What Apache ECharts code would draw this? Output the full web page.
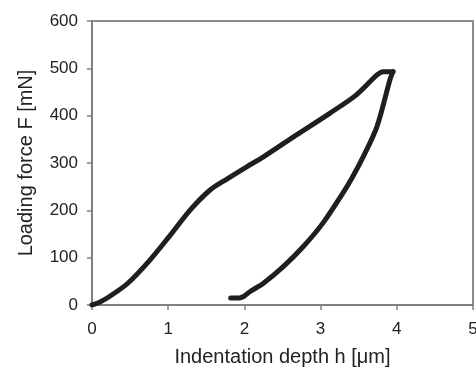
<!DOCTYPE html>
<html>
<head>
<meta charset="utf-8">
<script src="https://cdn.jsdelivr.net/npm/echarts@6/dist/echarts.min.js"></script>
<style>
html,body{margin:0;padding:0;background:#fff;}
#chart{width:476px;height:371px;}
</style>
</head>
<body>
<div id="chart"></div>
<script>
var loadH = [0, 0.1, 0.24, 0.47, 0.76, 1.02, 1.29, 1.55, 1.77, 2.03, 2.25, 2.69, 3.12, 3.47, 3.74, 3.82, 3.95];
var loadF = [0, 6, 19, 46, 95, 146, 201, 243, 266, 292, 313, 360, 405, 444, 486, 493, 493];
var unloadH = [3.95, 3.91, 3.74, 3.54, 3.41, 3.29, 3.03, 2.77, 2.51, 2.25, 2.07, 1.99, 1.93, 1.82];
var unloadF = [493, 476, 377, 307, 268, 236, 173, 123, 81, 46, 28, 18, 15, 15];
var xTicks = [0, 1, 2, 3, 4, 5];
var yTicks = [0, 100, 200, 300, 400, 500, 600];

function pairs(a, b) { return a.map(function (v, i) { return [v, b[i]]; }); }

var chart = echarts.init(document.getElementById('chart'));
var lineStyle = { width: 5, color: '#1f1f1f', cap: 'round', join: 'round' };
chart.setOption({
  animation: false,
  grid: { left: 92, top: 21, right: 3, bottom: 66, containLabel: false, outerBoundsMode: 'none', show: true, borderColor: '#8c8c8c', borderWidth: 2, backgroundColor: 'transparent' },
  xAxis: {
    type: 'value', min: xTicks[0], max: xTicks[xTicks.length - 1], interval: 1,
    name: 'Indentation depth h [\u03bcm]', nameLocation: 'middle', nameGap: 42,
    nameTextStyle: { fontFamily: 'Liberation Sans', fontSize: 20, color: '#222' },
    axisLine: { show: true, lineStyle: { color: '#808080', width: 2 } },
    axisTick: { show: true, inside: false, length: 5, lineStyle: { color: '#808080', width: 1.5 } },
    axisLabel: { fontFamily: 'Liberation Sans', fontSize: 17, color: '#222', margin: 16 },
    splitLine: { show: false }
  },
  yAxis: {
    type: 'value', min: yTicks[0], max: yTicks[yTicks.length - 1], interval: 100,
    name: 'Loading force F [mN]', nameLocation: 'middle', nameGap: 56,
    nameTextStyle: { fontFamily: 'Liberation Sans', fontSize: 20, color: '#222' },
    axisLine: { show: true, lineStyle: { color: '#808080', width: 2 } },
    axisTick: { show: true, inside: false, length: 5, lineStyle: { color: '#808080', width: 1.5 } },
    axisLabel: { fontFamily: 'Liberation Sans', fontSize: 17, color: '#222', margin: 14 },
    splitLine: { show: false }
  },
  series: [
    { type: 'line', data: pairs(loadH, loadF), showSymbol: false, symbol: 'none', smooth: 0.3, lineStyle: lineStyle },
    { type: 'line', data: pairs(unloadH, unloadF), showSymbol: false, symbol: 'none', smooth: 0.3, lineStyle: lineStyle }
  ]
});
</script>
</body>
</html>
